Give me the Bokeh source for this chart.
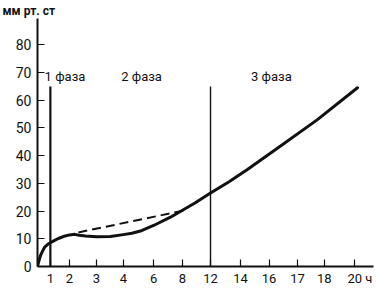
from bokeh.plotting import figure
from bokeh.models import Range1d, FixedTicker, Title
from bokeh.core.properties import value
from bokeh.embed import file_html
from bokeh.resources import INLINE

FONT = "Roboto"

# x axis: hour labels placed at (non-uniform) slots along the axis
tick_pos = [0.45, 1.12, 2.06, 3.0, 4.06, 5.07, 6.05, 7.1, 8.1, 9.09, 10.03, 11.1]
tick_labels = ["1", "2", "3", "4", "6", "8", "12", "14", "16", "17", "18",
               "\u2007\u200920 ч"]
y_ticks = [0, 10, 20, 30, 40, 50, 60, 70, 80]

# pressure curve (mm Hg), x in axis slots
curve_x = [0.0, 0.05, 0.1, 0.18, 0.25, 0.35, 0.45, 0.6, 0.73, 0.9, 1.12, 1.3, 1.45,
           1.68, 2.06, 2.55, 3.0, 3.3, 3.6, 4.06, 4.65, 5.07, 5.52, 6.05, 6.7,
           7.34, 8.5, 9.79, 11.19]
curve_y = [0.0, 2.0, 3.8, 5.6, 7.0, 7.9, 8.6, 9.4, 10.1, 10.8, 11.4, 11.6, 11.3,
           11.0, 10.7, 10.8, 11.5, 12.0, 12.8, 14.8, 17.8, 20.3, 23.0, 26.5, 30.6,
           35.0, 43.5, 53.0, 64.5]

dash_x = [1.43, 5.17]
dash_y = [12.3, 20.3]

phase_line_x = [0.45, 6.05]
phase_line_top = [65, 65]
phase_line_w = [2.2, 1.4]

phase_names = ["1 фаза", "2 фаза", "3 фаза"]
phase_name_x = [0.96, 3.64, 8.18]
phase_name_y = [68.5, 68.5, 68.5]

p = figure(width=386, height=290, output_backend="svg", toolbar_location=None,
           x_range=Range1d(0, 11.75), y_range=Range1d(0, 89.5),
           min_border_left=37, min_border_right=13, min_border_top=18,
           min_border_bottom=24)
p.outline_line_color = None
p.xgrid.visible = False
p.ygrid.visible = False
p.background_fill_color = "white"
p.border_fill_color = "white"

p.title = Title(text="мм рт. ст", align="left", offset=-35, standoff=2,
                text_font=FONT, text_font_size="12px", text_font_style="bold",
                text_color="#111111")

for ax in (p.xaxis[0], p.yaxis[0]):
    ax.axis_line_width = 2
    ax.axis_line_color = "#111111"
    ax.major_tick_line_color = "#111111"
    ax.major_tick_line_width = 1.2
    ax.major_tick_in = 7
    ax.major_tick_out = 0
    ax.minor_tick_line_color = None
    ax.major_label_text_font = FONT
    ax.major_label_text_color = "#111111"

p.xaxis.ticker = FixedTicker(ticks=tick_pos)
p.xaxis.major_label_overrides = {pos: lab for pos, lab in zip(tick_pos, tick_labels)}
p.xaxis.major_label_standoff = 4
p.xaxis.major_label_text_font_size = "13px"
p.yaxis.ticker = FixedTicker(ticks=y_ticks)
p.yaxis.major_label_standoff = 6
p.yaxis.major_label_text_font_size = "14px"

p.segment(x0=phase_line_x, y0=[0, 0], x1=phase_line_x, y1=phase_line_top,
          line_color="#111111", line_width=phase_line_w)

p.line(dash_x, dash_y, line_color="#111111", line_width=2, line_dash="9 5")
p.line(curve_x, curve_y, line_color="#111111", line_width=3, line_join="round",
       line_cap="round")

p.text(x=phase_name_x, y=phase_name_y, text=phase_names, text_align="center",
       text_baseline="middle", text_font=value(FONT), text_font_size="13px",
       text_color="#111111")

open("out.html", "w").write(file_html(p, INLINE))
